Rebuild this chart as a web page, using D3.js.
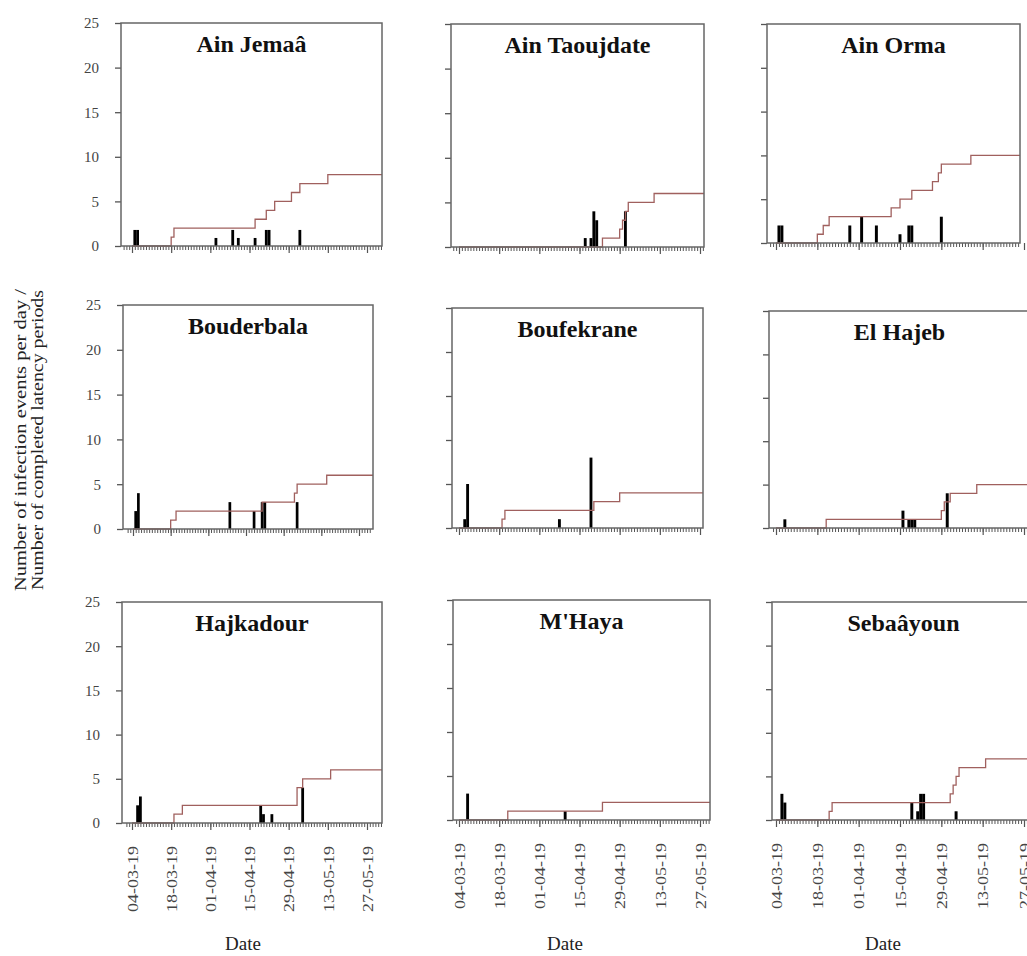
<!DOCTYPE html>
<html>
<head>
<meta charset="utf-8">
<script src="https://cdn.jsdelivr.net/npm/d3@7"></script>
<style>
  body { margin: 0; background: #fff; }
  svg { display: block; }
  text { font-family: "Liberation Serif", "Times New Roman", serif; }
</style>
</head>
<body>
<svg width="1027" height="956"></svg>
<script>
// site names, in panel order (row by row)
var sites = ["Ain Jemaâ", "Ain Taoujdate", "Ain Orma",
             "Bouderbala", "Boufekrane", "El Hajeb",
             "Hajkadour", "M'Haya", "Sebaâyoun"];

// infection events per day [date, count]
var evAinJemaa = [["05-03-19",1.8],["06-03-19",1.8],["03-04-19",0.9],["09-04-19",1.8],["11-04-19",0.9],
                  ["17-04-19",0.9],["21-04-19",1.8],["22-04-19",1.8],["03-05-19",1.8]];
var evAinTaoujdate = [["17-04-19",1],["19-04-19",1],["20-04-19",4],["21-04-19",3],["01-05-19",4]];
var evAinOrma = [["05-03-19",2],["06-03-19",2],["29-03-19",2],["02-04-19",3],["07-04-19",2],
                 ["15-04-19",1],["18-04-19",2],["19-04-19",2],["29-04-19",3]];
var evBouderbala = [["05-03-19",2],["06-03-19",4],["09-04-19",3],["18-04-19",2],["21-04-19",3],
                    ["22-04-19",3],["04-05-19",3]];
var evBoufekrane = [["06-03-19",1],["07-03-19",5],["08-04-19",1],["19-04-19",8]];
var evElHajeb = [["07-03-19",1],["16-04-19",2],["18-04-19",1],["19-04-19",1],["20-04-19",1],["01-05-19",4]];
var evHajkadour = [["06-03-19",2],["07-03-19",3],["19-04-19",2],["20-04-19",1],["23-04-19",1],["04-05-19",4]];
var evMHaya = [["07-03-19",3],["10-04-19",1]];
var evSebaayoun = [["06-03-19",3],["07-03-19",2],["19-04-19",2],["21-04-19",1],["22-04-19",3],
                   ["23-04-19",3],["04-05-19",1]];

// completed latency periods (cumulative steps) [date, value]
var latAinJemaa = [["04-03-19",0],["18-03-19",1],["19-03-19",2],["17-04-19",3],["21-04-19",4],
                   ["24-04-19",5],["30-04-19",6],["03-05-19",7],["13-05-19",8]];
var latAinTaoujdate = [["04-03-19",0],["23-04-19",1],["29-04-19",2],["30-04-19",3],["01-05-19",4],
                       ["02-05-19",5],["11-05-19",6]];
var latAinOrma = [["04-03-19",0],["18-03-19",1],["20-03-19",2],["22-03-19",3],["12-04-19",4],
                  ["15-04-19",5],["19-04-19",6],["26-04-19",7],["28-04-19",8],["29-04-19",9],["09-05-19",10]];
var latBouderbala = [["04-03-19",0],["18-03-19",1],["20-03-19",2],["21-04-19",3],["03-05-19",4],
                     ["04-05-19",5],["15-05-19",6]];
var latBoufekrane = [["04-03-19",0],["19-03-19",1],["20-03-19",2],["20-04-19",3],["29-04-19",4]];
var latElHajeb = [["04-03-19",0],["21-03-19",1],["29-04-19",2],["30-04-19",3],["02-05-19",4],["11-05-19",5]];
var latHajkadour = [["04-03-19",0],["19-03-19",1],["22-03-19",2],["02-05-19",4],["04-05-19",5],["14-05-19",6]];
var latMHaya = [["04-03-19",0],["21-03-19",1],["23-04-19",2]];
var latSebaayoun = [["04-03-19",0],["22-03-19",1],["23-03-19",2],["02-05-19",3],["03-05-19",4],
                    ["04-05-19",5],["05-05-19",6],["14-05-19",7]];

var yTicks = [0, 5, 10, 15, 20, 25];
var dateTicks = ["04-03-19","18-03-19","01-04-19","15-04-19","29-04-19","13-05-19","27-05-19"];

var events = [evAinJemaa, evAinTaoujdate, evAinOrma, evBouderbala, evBoufekrane, evElHajeb,
              evHajkadour, evMHaya, evSebaayoun];
var latency = [latAinJemaa, latAinTaoujdate, latAinOrma, latBouderbala, latBoufekrane, latElHajeb,
               latHajkadour, latMHaya, latSebaayoun];

// panel boxes: l/r/t = frame, z = y of zero, a/b = x of first/last date tick
var boxes = [
    {l:121, r:382, t:23,  z:246, a:132, b:367},
    {l:451, r:704, t:24,  z:247, a:459, b:700},
    {l:767, r:1020, t:24, z:243, a:776, b:1024},
    {l:123, r:373, t:305, z:529, a:133, b:359},
    {l:452, r:703, t:308, z:528, a:459, b:700},
    {l:769, r:1030, t:311, z:528, a:776, b:1024},
    {l:122, r:382, t:602, z:823, a:132, b:367},
    {l:453, r:710, t:600, z:820, a:459, b:700},
    {l:772, r:1035, t:602, z:820, a:776, b:1024}
];

var parse = d3.timeParse("%d-%m-%y");
var fmt = d3.timeFormat("%d-%m-%y");
var svg = d3.select("svg");

sites.forEach(function(name, i) {
    var B = boxes[i];
    var col = i % 3, row = Math.floor(i / 3);
    var x = d3.scaleTime()
        .domain([parse(dateTicks[0]), parse(dateTicks[dateTicks.length - 1])])
        .range([B.a, B.b]);
    var y = d3.scaleLinear().domain([0, 25]).range([B.z, B.t]);
    var dayW = x(parse("05-03-19")) - x(parse("04-03-19"));
    var g = svg.append("g");

    // y axis ticks (labels only in first column)
    var yAx = d3.axisLeft(y).tickValues(yTicks).tickSize(6).tickPadding(16);
    if (col > 0) yAx.tickFormat("");
    var ya = g.append("g").attr("transform", "translate(" + B.l + ",0)").call(yAx);
    ya.select(".domain").remove();
    ya.selectAll("line").attr("stroke", "#555").attr("stroke-width", 1.3);
    ya.selectAll("text").attr("fill", "#444").style("font-size", "15px")
        .style("font-family", "Liberation Serif, serif");

    // x axis: day ticks + two-week ticks
    var days = d3.timeDay.range(d3.timeDay.ceil(x.invert(B.l + 2)), x.invert(B.r - 1));
    var xMinor = g.append("g").attr("transform", "translate(0," + B.z + ")")
        .call(d3.axisBottom(x).tickValues(days).tickSize(4).tickFormat(""));
    xMinor.select(".domain").remove();
    xMinor.selectAll("line").attr("stroke", "#555");

    var xMajor = g.append("g").attr("transform", "translate(0," + B.z + ")")
        .call(d3.axisBottom(x).tickValues(dateTicks.map(parse)).tickSize(7)
              .tickFormat(row === 2 ? fmt : ""));
    xMajor.select(".domain").remove();
    xMajor.selectAll("line").attr("stroke", "#555").attr("stroke-width", 1.2);
    xMajor.selectAll("text")
        .attr("y", 0).attr("x", -23).attr("dy", "0.35em")
        .attr("transform", "rotate(-90)")
        .attr("textLength", 66).attr("lengthAdjust", "spacingAndGlyphs")
        .style("text-anchor", "end")
        .style("font-size", "15px")
        .style("font-family", "Liberation Serif, serif")
        .attr("fill", "#444");

    // bars
    g.selectAll("rect.ev").data(events[i]).enter().append("rect")
        .attr("class", "ev")
        .attr("x", function(d) { return x(parse(d[0])) - dayW * 0.5; })
        .attr("width", dayW)
        .attr("y", function(d) { return y(d[1]); })
        .attr("height", function(d) { return y(0) - y(d[1]); })
        .attr("fill", "#000");

    // latency step line
    var pts = latency[i].map(function(d) { return [parse(d[0]), d[1]]; });
    pts.push([x.invert(B.r), pts[pts.length - 1][1]]);
    var line = d3.line().curve(d3.curveStepAfter)
        .x(function(d) { return x(d[0]); })
        .y(function(d) { return y(d[1]); });
    g.append("path").datum(pts).attr("d", line)
        .attr("fill", "none").attr("stroke", "#a0605e").attr("stroke-width", 1.3);

    // frame
    g.append("rect").attr("x", B.l).attr("y", B.t)
        .attr("width", B.r - B.l).attr("height", B.z - B.t)
        .attr("fill", "none").attr("stroke", "#666").attr("stroke-width", 1.5);

    // title
    g.append("text").attr("x", (B.l + B.r) / 2).attr("y", B.t + 29)
        .attr("text-anchor", "middle")
        .style("font-weight", "bold").style("font-size", "24px")
        .attr("fill", "#111").text(name);
});

// "Date" labels under the bottom row
[243, 565, 883].forEach(function(cx) {
    svg.append("text").attr("x", cx).attr("y", 950).attr("text-anchor", "middle")
        .style("font-size", "19px").attr("fill", "#222").text("Date");
});

// y axis title
var yl = svg.append("text").attr("transform", "translate(26,440) rotate(-90)")
    .attr("text-anchor", "middle").style("font-size", "16px").attr("fill", "#222");
yl.append("tspan").attr("x", 0).attr("y", 0)
    .attr("textLength", 302).attr("lengthAdjust", "spacingAndGlyphs")
    .text("Number of infection events per day /");
yl.append("tspan").attr("x", 0).attr("y", 17)
    .attr("textLength", 300).attr("lengthAdjust", "spacingAndGlyphs")
    .text("Number of completed latency periods");
</script>
</body>
</html>
